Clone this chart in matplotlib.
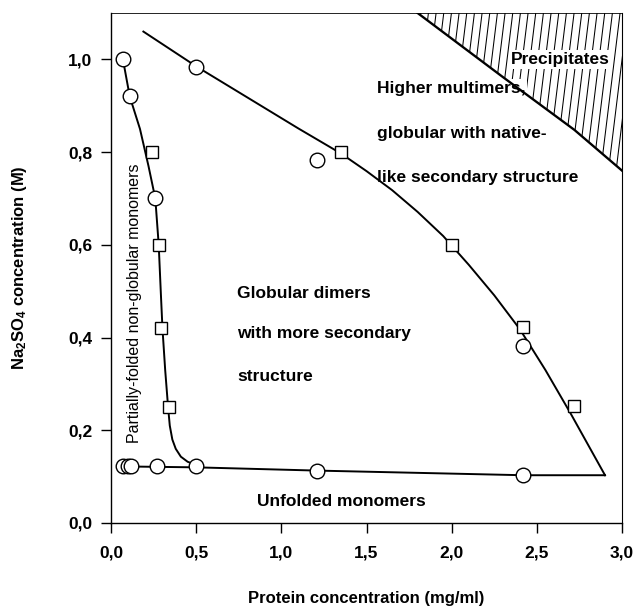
import matplotlib
matplotlib.use("Agg")
import matplotlib.pyplot as plt
from matplotlib.ticker import FuncFormatter, MultipleLocator
from matplotlib.patches import Polygon
import numpy as np

plt.rcParams['font.family'] = ['Liberation Sans', 'DejaVu Sans']
plt.rcParams['font.weight'] = 'bold'
plt.rcParams['axes.labelweight'] = 'bold'
plt.rcParams['mathtext.fontset'] = 'custom'
plt.rcParams['mathtext.rm'] = 'Liberation Sans:bold'
plt.rcParams['mathtext.default'] = 'rm'

# measured points (protein mg/ml, Na2SO4 M)
circ_x = [0.07, 0.10, 0.12, 0.11, 0.26, 0.27, 0.50, 1.21, 2.42, 0.07, 0.50, 1.21, 2.42]
circ_y = [0.122, 0.122, 0.122, 0.92, 0.70, 0.122, 0.122, 0.113, 0.103, 1.00, 0.983, 0.784, 0.382]
sq_x = [0.24, 0.28, 0.295, 0.34, 1.35, 2.00, 2.42, 2.72]
sq_y = [0.80, 0.60, 0.42, 0.25, 0.80, 0.60, 0.423, 0.252]

# phase boundaries
left_x = [0.07, 0.11, 0.17, 0.22, 0.26, 0.28, 0.292, 0.302, 0.318, 0.335,
          0.345, 0.36, 0.38, 0.41, 0.45, 0.50]
left_y = [1.00, 0.92, 0.85, 0.77, 0.70, 0.60, 0.50, 0.42, 0.33, 0.25,
          0.21, 0.18, 0.16, 0.143, 0.132, 0.125]
bottom_x = [0.07, 0.50, 1.21, 2.42, 2.90]
bottom_y = [0.122, 0.120, 0.113, 0.103, 0.103]
upper_x = [0.19, 0.50, 0.80, 1.10, 1.35, 1.50, 1.65, 1.80, 1.95, 2.10,
           2.25, 2.40, 2.55, 2.70, 2.90]
upper_y = [1.06, 0.985, 0.918, 0.851, 0.797, 0.759, 0.718, 0.671, 0.619, 0.557,
           0.491, 0.418, 0.33, 0.235, 0.103]
prec_x = [1.80, 2.30, 2.72, 3.00]
prec_y = [1.10, 0.962, 0.848, 0.76]

fig = plt.figure(figsize=(6.38, 6.06), dpi=100)
ax = fig.add_axes([0.174, 0.137, 0.801, 0.8415])

lw = 1.4
ax.plot(left_x, left_y, color='black', lw=lw, zorder=2)
ax.plot(bottom_x, bottom_y, color='black', lw=lw, zorder=2)
ax.plot(upper_x, upper_y, color='black', lw=lw, zorder=2)
ax.plot(prec_x, prec_y, color='black', lw=lw * 1.2, zorder=4)

# hatched precipitates region
poly = Polygon(list(zip(prec_x, prec_y)) + [(3.0, 1.1)], closed=True,
               facecolor='none', edgecolor='none')
ax.add_patch(poly)
for x0 in np.arange(1.55, 3.05, 0.045):
    ln, = ax.plot([x0, x0 + 0.14], [0.70, 1.12], color='black', lw=0.75, zorder=1)
    ln.set_clip_path(poly)

ax.plot(circ_x, circ_y, 'o', ms=10.5, mfc='white', mec='black', mew=1.0,
        linestyle='none', zorder=3)
ax.plot(sq_x, sq_y, 's', ms=9, mfc='white', mec='black', mew=1.0,
        linestyle='none', zorder=3)

fs = 12.5
white = dict(facecolor='white', edgecolor='none', pad=1.5)
ax.text(0.74, 0.496, 'Globular dimers', fontsize=fs, va='center')
ax.text(0.74, 0.409, 'with more secondary', fontsize=fs, va='center')
ax.text(0.74, 0.317, 'structure', fontsize=fs, va='center')
ax.text(1.35, 0.046, 'Unfolded monomers', fontsize=fs, ha='center', va='center')
ax.text(1.56, 0.9375, 'Higher multimers,', fontsize=fs, va='center', bbox=white, zorder=3)
ax.text(1.56, 0.84, 'globular with native-', fontsize=fs, va='center')
ax.text(1.56, 0.746, 'like secondary structure', fontsize=fs, va='center')
ax.text(2.35, 1.0, 'Precipitates', fontsize=fs, va='center', bbox=white, zorder=3)
ax.text(0.135, 0.475, 'Partially-folded non-globular monomers', fontsize=11.5,
        fontweight='normal', rotation=90, ha='center', va='center')

ax.set_xlim(0, 3.0)
ax.set_ylim(0, 1.1)
ax.xaxis.set_major_locator(MultipleLocator(0.5))
ax.yaxis.set_major_locator(MultipleLocator(0.2))
comma = FuncFormatter(lambda v, p: f"{v:.1f}".replace('.', ','))
ax.xaxis.set_major_formatter(comma)
ax.yaxis.set_major_formatter(comma)
ax.tick_params(direction='out', length=7.5, width=1.0, labelsize=12.5)
ax.tick_params(axis='x', pad=9)
ax.tick_params(axis='y', pad=6)
for s in ax.spines.values():
    s.set_linewidth(1.0)
ax.spines['top'].set_linewidth(0.6)
ax.spines['right'].set_linewidth(0.8)

ax.set_xlabel('Protein concentration (mg/ml)', fontsize=12, labelpad=22)
ax.set_ylabel('Na$_2$SO$_4$ concentration (M)', fontsize=12, labelpad=28)

fig.savefig('out.png', dpi=100)
